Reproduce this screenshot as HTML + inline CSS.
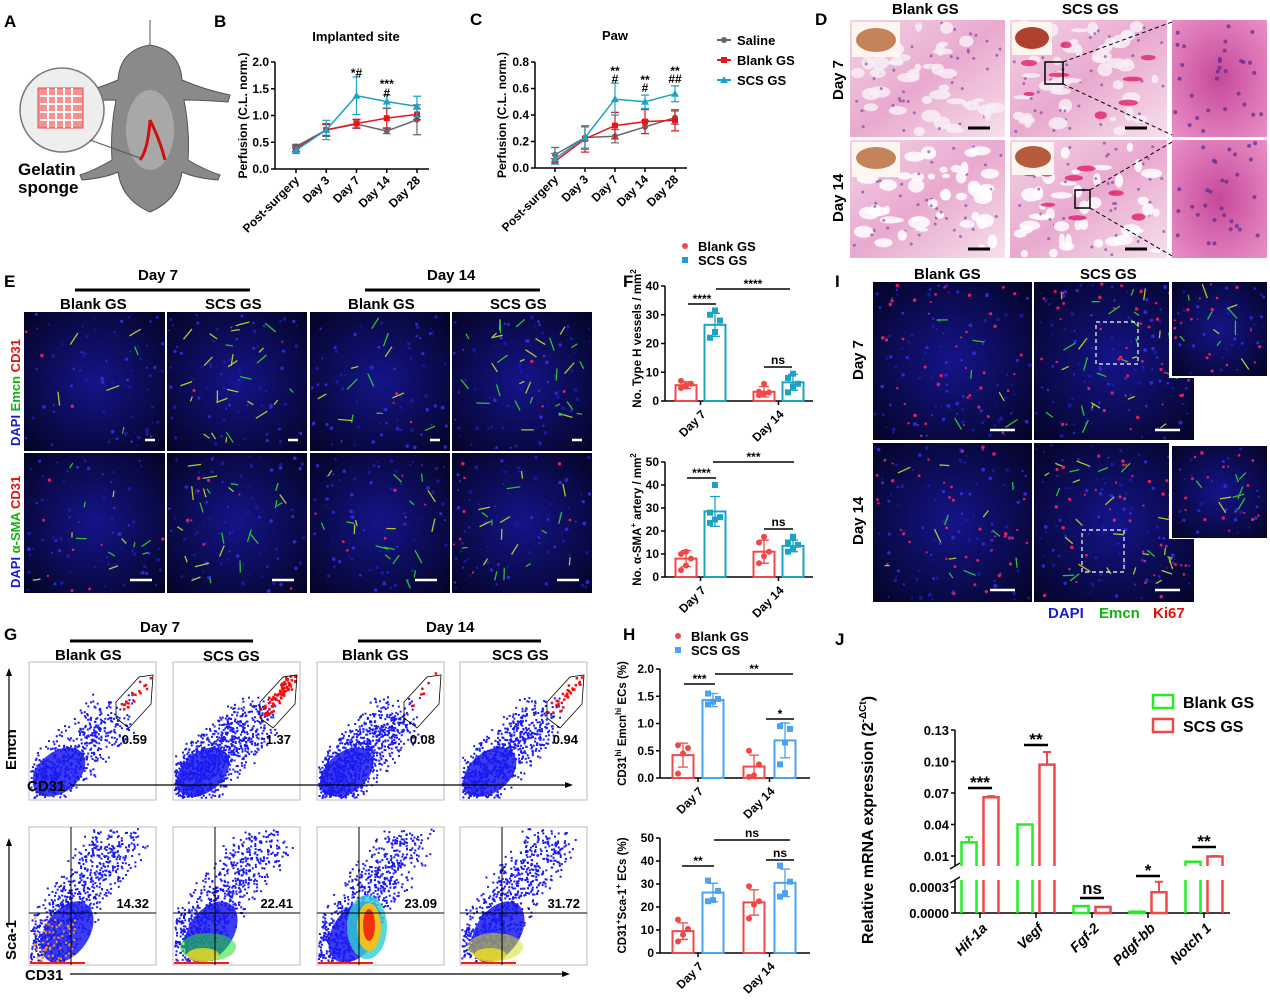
<!DOCTYPE html>
<html><head><meta charset="utf-8">
<style>
html,body{margin:0;padding:0;background:#fff;}
svg{display:block;font-family:"Liberation Sans",Arial,sans-serif;}
.pl{font-size:17px;font-weight:bold;}
.t{font-weight:bold;}
</style></head>
<body>
<svg id="fig" width="1270" height="1005" viewBox="0 0 1270 1005" xmlns="http://www.w3.org/2000/svg">
<defs>
<radialGradient id="fluo" cx="50%" cy="50%" r="70%"><stop offset="0" stop-color="#14148a"/><stop offset="1" stop-color="#040426"/></radialGradient>
<linearGradient id="hist" x1="0" y1="0" x2="1" y2="1"><stop offset="0" stop-color="#f3d3e6"/><stop offset="0.5" stop-color="#e9a9cf"/><stop offset="1" stop-color="#f6e0ec"/></linearGradient>
<radialGradient id="histz" cx="50%" cy="50%" r="70%"><stop offset="0" stop-color="#c7489a"/><stop offset="1" stop-color="#e990c6"/></radialGradient>
</defs>

<g>
<text class="pl" x="4" y="27">A</text><text class="pl" x="214" y="27">B</text><text class="pl" x="470" y="25">C</text>
<text class="pl" x="815" y="25">D</text><text class="pl" x="4" y="287">E</text><text class="pl" x="623" y="287">F</text>
<text class="pl" x="835" y="287">I</text><text class="pl" x="4" y="640">G</text><text class="pl" x="623" y="640">H</text>
<text class="pl" x="835" y="645">J</text>
</g>

<g>
<path d="M150 20 L150 45 Q120 50 118 80 Q95 90 70 95 L72 102 Q100 100 116 100 Q110 130 112 160 Q95 170 80 175 L82 180 Q105 178 118 172 Q122 200 150 212 Q178 200 182 172 Q195 178 218 180 L220 175 Q205 170 188 160 Q190 130 184 100 Q200 100 228 102 L230 95 Q205 90 182 80 Q180 50 150 45 Z" fill="#8a8a8a" stroke="#555" stroke-width="1"/>
<ellipse cx="150" cy="130" rx="24" ry="40" fill="#a8a8a8"/>
<path d="M150 120 Q148 150 140 160 M150 120 Q160 140 165 160" stroke="#d01010" stroke-width="3" fill="none"/>
<circle cx="62" cy="110" r="42" fill="#eee" stroke="#777" stroke-width="1.5"/>
<rect x="38" y="88" width="45" height="40" fill="#f49090" stroke="#e05050"/>
<path d="M40 96 H82 M40 104 H82 M40 112 H82 M40 120 H82 M48 88 V128 M56 88 V128 M64 88 V128 M72 88 V128" stroke="#fff" stroke-width="2"/>
<line x1="90" y1="140" x2="140" y2="158" stroke="#555"/>
<text x="18" y="175" font-size="17" class="t">Gelatin</text>
<text x="18" y="193" font-size="17" class="t">sponge</text>
</g>

<g id="lineB"></g>
<g id="lineC"></g>

<g font-size="13" font-weight="bold">
<line x1="717" y1="40" x2="731" y2="40" stroke="#666" stroke-width="2"/><circle cx="724" cy="40" r="3" fill="#666"/><text x="737" y="45">Saline</text>
<line x1="717" y1="60" x2="731" y2="60" stroke="#e8141c" stroke-width="2"/><rect x="721" y="57" width="6" height="6" fill="#e8141c"/><text x="737" y="65">Blank GS</text>
<line x1="717" y1="80" x2="731" y2="80" stroke="#1ba3c6" stroke-width="2"/><path d="M724 76 L728 83 L720 83Z" fill="#1ba3c6"/><text x="737" y="85">SCS GS</text>
</g>

<g>
<text x="892" y="14" font-size="15" class="t">Blank GS</text><text x="1062" y="14" font-size="15" class="t">SCS GS</text>
<text transform="translate(843,100) rotate(-90)" font-size="15" class="t">Day 7</text>
<text transform="translate(843,222) rotate(-90)" font-size="15" class="t">Day 14</text>
<rect x="850" y="20" width="155" height="117" fill="url(#hist)"/>
<rect x="1010" y="20" width="157" height="117" fill="url(#hist)"/>
<rect x="1172" y="20" width="95" height="117" fill="url(#histz)"/>
<rect x="850" y="140" width="155" height="118" fill="url(#hist)"/>
<rect x="1010" y="140" width="157" height="118" fill="url(#hist)"/>
<rect x="1172" y="140" width="95" height="118" fill="url(#histz)"/>
<g id="histTex"></g>
<rect x="852" y="22" width="48" height="35" fill="#fdf5ef"/><ellipse cx="876" cy="40" rx="20" ry="12" fill="#c4835a"/>
<rect x="1012" y="22" width="40" height="33" fill="#fdf5ef"/><ellipse cx="1032" cy="38" rx="17" ry="11" fill="#b04030"/>
<rect x="852" y="142" width="48" height="35" fill="#fdf5ef"/><ellipse cx="876" cy="158" rx="20" ry="11" fill="#c4835a"/>
<rect x="1012" y="142" width="42" height="33" fill="#fdf5ef"/><ellipse cx="1033" cy="157" rx="18" ry="11" fill="#b65a40"/>
<rect x="1045" y="62" width="18" height="22" fill="none" stroke="#000" stroke-width="1.5"/>
<rect x="1075" y="190" width="15" height="18" fill="none" stroke="#000" stroke-width="1.5"/>
<path d="M1063 62 L1172 22 M1063 84 L1172 135 M1090 190 L1172 142 M1090 208 L1172 256" stroke="#000" stroke-dasharray="4 3"/>
<path d="M968 128 H990 M1125 128 H1147 M968 249 H990 M1125 249 H1147" stroke="#000" stroke-width="3"/>
</g>

<g>
<text x="138" y="280" font-size="15" class="t">Day 7</text><text x="427" y="280" font-size="15" class="t">Day 14</text>
<line x1="75" y1="290" x2="250" y2="290" stroke="#000" stroke-width="3"/><line x1="365" y1="290" x2="540" y2="290" stroke="#000" stroke-width="3"/>
<text x="60" y="309" font-size="15" class="t">Blank GS</text><text x="205" y="309" font-size="15" class="t">SCS GS</text>
<text x="348" y="309" font-size="15" class="t">Blank GS</text><text x="490" y="309" font-size="15" class="t">SCS GS</text>
<g id="eImgs"></g>
<text transform="translate(20,446) rotate(-90)" font-size="13" class="t"><tspan fill="#1a1ad0">DAPI </tspan><tspan fill="#12b012">Emcn </tspan><tspan fill="#e01010">CD31</tspan></text>
<text transform="translate(20,588) rotate(-90)" font-size="13" class="t"><tspan fill="#1a1ad0">DAPI </tspan><tspan fill="#12b012">α-SMA </tspan><tspan fill="#e01010">CD31</tspan></text>
</g>

<g id="barF1"></g>
<g id="barF2"></g>
<g font-size="13" font-weight="bold">
<circle cx="685" cy="246" r="3" fill="#f04848"/><text x="698" y="251">Blank GS</text>
<rect x="682" y="257" width="6" height="6" fill="#1ba3c6"/><text x="698" y="265">SCS GS</text>
</g>

<g>
<text x="914" y="279" font-size="15" class="t">Blank GS</text><text x="1080" y="279" font-size="15" class="t">SCS GS</text>
<text transform="translate(863,380) rotate(-90)" font-size="15" class="t">Day 7</text>
<text transform="translate(863,545) rotate(-90)" font-size="15" class="t">Day 14</text>
<g id="iImgs"></g>
<text x="1048" y="618" font-size="15" class="t" fill="#1a1ad0">DAPI</text><text x="1099" y="618" font-size="15" class="t" fill="#12b012">Emcn</text><text x="1153" y="618" font-size="15" class="t" fill="#e01010">Ki67</text>
</g>

<g>
<text x="140" y="632" font-size="15" class="t">Day 7</text><text x="426" y="632" font-size="15" class="t">Day 14</text>
<line x1="70" y1="641" x2="253" y2="641" stroke="#000" stroke-width="3"/><line x1="358" y1="641" x2="541" y2="641" stroke="#000" stroke-width="3"/>
<text x="55" y="660" font-size="15" class="t">Blank GS</text><text x="203" y="661" font-size="15" class="t">SCS GS</text>
<text x="342" y="660" font-size="15" class="t">Blank GS</text><text x="492" y="660" font-size="15" class="t">SCS GS</text>
<g id="gPlots"></g>
<text transform="translate(16,770) rotate(-90)" font-size="15" class="t">Emcn</text>
<text transform="translate(16,960) rotate(-90)" font-size="15" class="t">Sca-1</text>
<line x1="9" y1="755" x2="9" y2="672" stroke="#000" stroke-width="1.2"/><path d="M9 668 L6 676 L12 676Z"/>
<line x1="9" y1="925" x2="9" y2="842" stroke="#000" stroke-width="1.2"/><path d="M9 838 L6 846 L12 846Z"/>
<text x="27" y="791" font-size="15" class="t">CD31</text><text x="25" y="980" font-size="15" class="t">CD31</text>
<line x1="70" y1="785" x2="568" y2="785" stroke="#000" stroke-width="1.2"/><path d="M573 785 L565 782 L565 788Z"/>
<line x1="70" y1="974" x2="565" y2="974" stroke="#000" stroke-width="1.2"/><path d="M570 974 L562 971 L562 977Z"/>
</g>

<g id="barH1"></g>
<g id="barH2"></g>
<g font-size="13" font-weight="bold">
<circle cx="678" cy="636" r="3" fill="#f04848"/><text x="691" y="641">Blank GS</text>
<rect x="675" y="647" width="6" height="6" fill="#4aa3f0"/><text x="691" y="655">SCS GS</text>
</g>

<g id="barJ"></g>
<g font-size="16" font-weight="bold">
<rect x="1153" y="695" width="20" height="13" fill="none" stroke="#22ee22" stroke-width="2.5"/><text x="1183" y="708">Blank GS</text>
<rect x="1153" y="719" width="20" height="13" fill="none" stroke="#f04848" stroke-width="2.5"/><text x="1183" y="732">SCS GS</text>
</g>
</svg>

<script>
// ===== Chart data =====
const lineCats = ["Post-surgery","Day 3","Day 7","Day 14","Day 28"];
const bSaline = [0.42,0.73,0.84,0.71,0.92];
const bBlank  = [0.38,0.73,0.85,0.95,1.02];
const bSCS    = [0.35,0.73,1.37,1.26,1.17];
const bSalineErr=[0.04,0.12,0.08,0.05,0.28];
const bBlankErr =[0.05,0.10,0.08,0.18,0.10];
const bSCSErr   =[0.06,0.18,0.35,0.12,0.19];
const bTicks=[0,0.5,1.0,1.5,2.0];
const cSaline=[0.10,0.23,0.24,0.31,0.38];
const cBlank =[0.05,0.22,0.32,0.35,0.36];
const cSCS   =[0.07,0.23,0.52,0.50,0.56];
const cSalineErr=[0.055,0.08,0.05,0.05,0.05];
const cBlankErr =[0.02,0.10,0.10,0.09,0.08];
const cSCSErr   =[0.04,0.09,0.12,0.05,0.06];
const cTicks=[0,0.2,0.4,0.6,0.8];

const dayCats=["Day 7","Day 14"];
const f1Blank=[5.5,3.2]; const f1SCS=[26.5,6.5];
const f1BlankErr=[1.2,1.8]; const f1SCSErr=[4,2.8];
const f1BlankPts=[[4.5,5,6,7,5.5],[2,2.5,3,3.2,6]];
const f1SCSPts=[[22,24,28,30,31.5],[3,5,6,8,9.5]];
const f1Ticks=[0,10,20,30,40];
const f2Blank=[8,11]; const f2SCS=[28.5,13.5];
const f2BlankErr=[3.5,5]; const f2SCSErr=[6.5,2.5];
const f2BlankPts=[[3,5,8,10,11],[6,9,11,15,17.5]];
const f2SCSPts=[[23.5,25,26,28,40],[11,12,14,15,17.5]];
const f2Ticks=[0,10,20,30,40,50];
const h1Blank=[0.42,0.21]; const h1SCS=[1.43,0.69];
const h1BlankErr=[0.22,0.21]; const h1SCSErr=[0.12,0.32];
const h1BlankPts=[[0.08,0.45,0.55,0.6],[0.02,0.05,0.25,0.5]];
const h1SCSPts=[[1.35,1.4,1.45,1.55],[0.25,0.65,0.9,0.95]];
const h1Ticks=[0,0.5,1.0,1.5,2.0];
const h2Blank=[9.5,22]; const h2SCS=[26.3,30.5];
const h2BlankErr=[3.6,5.5]; const h2SCSErr=[4,6];
const h2BlankPts=[[5,8,10.5,14.5],[15,21,22.5,29]];
const h2SCSPts=[[22.5,23,27,31.5],[24.5,26,31,38]];
const h2Ticks=[0,10,20,30,40,50];

const geneCats=["Hif-1a","Vegf","Fgf-2","Pdgf-bb","Notch 1"];
const jBlank=[0.023,0.040,0.00008,0.000015,0.0045];
const jSCS=[0.066,0.097,0.00007,0.00024,0.0095];
const jBlankErr=[0.005,0,0,0,0];
const jSCSErr=[0.001,0.012,0,0.00012,0.0005];
const jUpperTicks=[0.01,0.04,0.07,0.10,0.13];
const jUpperLabels=["0.01","0.04","0.07","0.10","0.13"];
const jLowerTicks=[0,0.0003];
const jLowerLabels=["0.0000","0.0003"];

const NS="http://www.w3.org/2000/svg";
function mk(parent,tag,attrs,text){const e=document.createElementNS(NS,tag);for(const k in attrs)e.setAttribute(k,attrs[k]);if(text!==undefined)e.textContent=text;parent.appendChild(e);return e;}
function fmt(v,d){return v.toFixed(d);}

function lineChart(id,o){
  const g=document.getElementById(id);
  const y=v=>o.y0-(v-o.min)/(o.max-o.min)*(o.y0-o.y1);
  const x=i=>o.xs+i*o.dx;
  mk(g,"text",{x:o.titleX,y:o.titleY,"font-size":13,"font-weight":"bold","text-anchor":"middle"},o.title);
  mk(g,"line",{x1:o.ax,y1:o.y1,x2:o.ax,y2:o.y0,stroke:"#000","stroke-width":1.5});
  mk(g,"line",{x1:o.ax,y1:o.y0,x2:x(4)+12,y2:o.y0,stroke:"#000","stroke-width":1.5});
  o.ticks.forEach(t=>{
    const tk=mk(g,"line",{x1:o.ax-4,y1:y(t),x2:o.ax,y2:y(t),stroke:"#000","stroke-width":1.5});
    
    const lb=mk(g,"text",{x:o.ax-6,y:y(t)+4,"font-size":12,"font-weight":"bold","text-anchor":"end"},fmt(t,1));
    
  });
  lineCats.forEach((c,i)=>{
    mk(g,"line",{x1:x(i),y1:o.y0,x2:x(i),y2:o.y0+4,stroke:"#000","stroke-width":1.5});
    const lb=mk(g,"text",{transform:`translate(${x(i)+4},${o.y0+12}) rotate(-45)`,"font-size":12,"font-weight":"bold","text-anchor":"end"},c);
    
  });
  const yl=mk(g,"text",{transform:`translate(${o.ylx},${(o.y0+o.y1)/2}) rotate(-90)`,"font-size":12,"font-weight":"bold","text-anchor":"middle"},"Perfusion (C.L. norm.)");
  
  o.series.forEach(s=>{
    const pts=s.v.map((v,i)=>x(i)+","+y(v)).join(" ");
    const pl=mk(g,"polyline",{points:pts,fill:"none",stroke:s.c,"stroke-width":1.5});
    
    s.v.forEach((v,i)=>{
      const e=s.e[i];
      mk(g,"path",{d:`M${x(i)} ${y(v+e)}V${y(v-e)}M${x(i)-4} ${y(v+e)}H${x(i)+4}M${x(i)-4} ${y(v-e)}H${x(i)+4}`,stroke:s.c,"stroke-width":1.2,fill:"none"});
      let m;
      if(s.m==="sq") m=mk(g,"rect",{x:x(i)-3,y:y(v)-3,width:6,height:6,fill:s.c});
      else if(s.m==="tri") m=mk(g,"path",{d:`M${x(i)} ${y(v)-4}L${x(i)+4} ${y(v)+3}L${x(i)-4} ${y(v)+3}Z`,fill:s.c});
      else m=mk(g,"circle",{cx:x(i),cy:y(v),r:3,fill:s.c});
      
    });
  });
  o.stars.forEach(s=>{mk(g,"text",{x:x(s.i),y:s.y,"font-size":12,"font-weight":"bold","text-anchor":"middle"},s.t);});
}
lineChart("lineB",{xs:296,dx:30.25,ax:275,y0:169,y1:62,min:0,max:2,ticks:bTicks,title:"Implanted site",titleX:356,titleY:41,ylx:247,
 series:[{v:bSaline,e:bSalineErr,c:"#666",m:"ci"},{v:bBlank,e:bBlankErr,c:"#e8141c",m:"sq"},{v:bSCS,e:bSCSErr,c:"#1ba3c6",m:"tri"}],
 stars:[{i:2,y:77,t:"*#"},{i:3,y:88,t:"***"},{i:3,y:97,t:"#"}]});
lineChart("lineC",{xs:555,dx:30,ax:535,y0:168,y1:62,min:0,max:0.8,ticks:cTicks,title:"Paw",titleX:615,titleY:40,ylx:506,
 series:[{v:cSaline,e:cSalineErr,c:"#666",m:"ci"},{v:cBlank,e:cBlankErr,c:"#e8141c",m:"sq"},{v:cSCS,e:cSCSErr,c:"#1ba3c6",m:"tri"}],
 stars:[{i:2,y:75,t:"**"},{i:2,y:83,t:"#"},{i:3,y:84,t:"**"},{i:3,y:92,t:"#"},{i:4,y:75,t:"**"},{i:4,y:83,t:"##"}]});

function barChart(id,o){
  const g=document.getElementById(id);
  const y=v=>o.y0-v/o.max*(o.y0-o.y1);
  mk(g,"line",{x1:o.ax,y1:o.y1,x2:o.ax,y2:o.y0,stroke:"#000","stroke-width":1.5});
  mk(g,"line",{x1:o.ax,y1:o.y0,x2:o.xend,y2:o.y0,stroke:"#000","stroke-width":1.5});
  o.ticks.forEach(t=>{
    mk(g,"line",{x1:o.ax-4,y1:y(t),x2:o.ax,y2:y(t),stroke:"#000","stroke-width":1.5});
    const lb=mk(g,"text",{x:o.ax-6,y:y(t)+4,"font-size":12,"font-weight":"bold","text-anchor":"end"},fmt(t,o.dec));
    
  });
  dayCats.forEach((c,i)=>{
    const cx=(o.cx[0][i]+o.cx[1][i])/2;
    mk(g,"line",{x1:cx,y1:o.y0,x2:cx,y2:o.y0+4,stroke:"#000","stroke-width":1.5});
    const lb=mk(g,"text",{transform:`translate(${cx+6},${o.y0+14}) rotate(-45)`,"font-size":12,"font-weight":"bold","text-anchor":"end"},c);
    
  });
  const yl=mk(g,"text",{transform:`translate(${o.ylx},${(o.y0+o.y1)/2+o.yloff}) rotate(-90)`,"font-size":11.5,"font-weight":"bold","text-anchor":"middle"});
  yl.innerHTML=o.ylabel;
  
  [[o.blank,o.blankErr,o.blankPts,o.c1,"ci"],[o.scs,o.scsErr,o.scsPts,o.c2,"sq"]].forEach((s,k)=>{
    s[0].forEach((v,i)=>{
      const cx=o.cx[k][i],w=o.bw;
      const b=mk(g,"rect",{x:cx-w/2,y:y(v),width:w,height:o.y0-y(v),fill:"none",stroke:s[3],"stroke-width":2});
      
      const e=s[1][i];
      mk(g,"path",{d:`M${cx} ${y(v+e)}V${y(v-e)}M${cx-5} ${y(v+e)}H${cx+5}M${cx-5} ${y(v-e)}H${cx+5}`,stroke:s[3],"stroke-width":1.3,fill:"none"});
      s[2][i].forEach((p,j)=>{
        const px=cx+((j%3)-1)*5;
        let m= s[4]==="ci"? mk(g,"circle",{cx:px,cy:y(p),r:3,fill:s[3]}) : mk(g,"rect",{x:px-3,y:y(p)-3,width:6,height:6,fill:s[3]});
        
      });
    });
  });
  o.sig.forEach(s=>{
    mk(g,"line",{x1:s.x1,y1:s.y,x2:s.x2,y2:s.y,stroke:"#000","stroke-width":1.5});
    mk(g,"text",{x:(s.x1+s.x2)/2,y:s.y-(s.t==="ns"?3:1),"font-size":12,"font-weight":"bold","text-anchor":"middle"},s.t);
  });
}
barChart("barF1",{ax:665,xend:813,y0:401,y1:286,max:40,ticks:f1Ticks,dec:0,bw:21,cx:[[686,764],[715,793]],
 blank:f1Blank,blankErr:f1BlankErr,blankPts:f1BlankPts,scs:f1SCS,scsErr:f1SCSErr,scsPts:f1SCSPts,c1:"#f04848",c2:"#1ba3c6",
 ylx:641,yloff:-5,ylabel:'No. Type H vessels / mm<tspan dy="-5" font-size="8">2</tspan>',
 sig:[{x1:688,x2:716,y:304,t:"****"},{x1:716,x2:790,y:289,t:"****"},{x1:764,x2:792,y:367,t:"ns"}]});
barChart("barF2",{ax:665,xend:813,y0:577,y1:462,max:50,ticks:f2Ticks,dec:0,bw:21,cx:[[686,764],[715,793]],
 blank:f2Blank,blankErr:f2BlankErr,blankPts:f2BlankPts,scs:f2SCS,scsErr:f2SCSErr,scsPts:f2SCSPts,c1:"#f04848",c2:"#1ba3c6",
 ylx:641,yloff:0,ylabel:'No. α-SMA<tspan dy="-5" font-size="8">+</tspan><tspan dy="5"> artery / mm</tspan><tspan dy="-5" font-size="8">2</tspan>',
 sig:[{x1:687,x2:716,y:478,t:"****"},{x1:713,x2:794,y:462,t:"***"},{x1:764,x2:793,y:529,t:"ns"}]});
barChart("barH1",{ax:660,xend:810,y0:778,y1:669,max:2,ticks:h1Ticks,dec:1,bw:21,cx:[[683,754],[713,785]],
 blank:h1Blank,blankErr:h1BlankErr,blankPts:h1BlankPts,scs:h1SCS,scsErr:h1SCSErr,scsPts:h1SCSPts,c1:"#f04848",c2:"#4aa3f0",
 ylx:626,yloff:0,ylabel:'CD31<tspan dy="-5" font-size="8">hi</tspan><tspan dy="5"> Emcn</tspan><tspan dy="-5" font-size="8">hi</tspan><tspan dy="5"> ECs (%)</tspan>',
 sig:[{x1:684,x2:715,y:684,t:"***"},{x1:715,x2:793,y:674,t:"**"},{x1:766,x2:794,y:719,t:"*"}]});
barChart("barH2",{ax:660,xend:810,y0:953,y1:838,max:50,ticks:h2Ticks,dec:0,bw:21,cx:[[683,754],[713,785]],
 blank:h2Blank,blankErr:h2BlankErr,blankPts:h2BlankPts,scs:h2SCS,scsErr:h2SCSErr,scsPts:h2SCSPts,c1:"#f04848",c2:"#4aa3f0",
 ylx:626,yloff:0,ylabel:'CD31<tspan dy="-5" font-size="8">+</tspan><tspan dy="5">Sca-1</tspan><tspan dy="-5" font-size="8">+</tspan><tspan dy="5"> ECs (%)</tspan>',
 sig:[{x1:682,x2:714,y:866,t:"**"},{x1:714,x2:790,y:840,t:"ns"},{x1:766,x2:794,y:860,t:"ns"}]});

(function(){
  const g=document.getElementById("barJ");
  const ax=955, xend=1230, yTop=730, yU=856, uMin=0.01, uMax=0.13, brkU=866, brkL=880, yL0=913, lMax=0.0003, yL=887;
  const yUp=v=>yU-(v-uMin)/(uMax-uMin)*(yU-yTop);
  const yLo=v=>yL0-v/lMax*(yL0-yL);
  const inUpper=v=>v>lMax*1.5;
  const yAny=v=>inUpper(v)?yUp(v):yLo(v);
  const tick0=980, dxg=56, bw=15;
  mk(g,"line",{x1:ax,y1:yTop,x2:ax,y2:brkU,stroke:"#000","stroke-width":1.5});
  mk(g,"line",{x1:ax,y1:brkL,x2:ax,y2:yL0,stroke:"#000","stroke-width":1.5});
  mk(g,"path",{d:`M${ax-5} ${brkU+3}L${ax+5} ${brkU-3}M${ax-5} ${brkL+3}L${ax+5} ${brkL-3}`,stroke:"#000","stroke-width":1.5});
  mk(g,"line",{x1:ax,y1:yL0,x2:xend,y2:yL0,stroke:"#000","stroke-width":1.5});
  jUpperTicks.forEach((t,i)=>{mk(g,"line",{x1:ax-4,y1:yUp(t),x2:ax,y2:yUp(t),stroke:"#000","stroke-width":1.5});
    const lb=mk(g,"text",{x:ax-6,y:yUp(t)+5,"font-size":13,"font-weight":"bold","text-anchor":"end"},jUpperLabels[i]);});
  jLowerTicks.forEach((t,i)=>{mk(g,"line",{x1:ax-4,y1:yLo(t),x2:ax,y2:yLo(t),stroke:"#000","stroke-width":1.5});
    const lb=mk(g,"text",{x:ax-6,y:yLo(t)+5,"font-size":13,"font-weight":"bold","text-anchor":"end"},jLowerLabels[i]);});
  const yl=mk(g,"text",{transform:"translate(873,820) rotate(-90)","font-size":16,"font-weight":"bold","text-anchor":"middle"});
  yl.innerHTML='Relative mRNA expression (2<tspan dy="-7" font-size="10">-ΔCt</tspan><tspan dy="7">)</tspan>';
  
  function drawBar(cx,v,c){
    if(inUpper(v)){
      const b=mk(g,"path",{d:`M${cx-bw/2} ${yL0}V${brkL}M${cx+bw/2} ${yL0}V${brkL}M${cx-bw/2} ${brkU}V${yUp(v)}H${cx+bw/2}V${brkU}`,fill:"none",stroke:c,"stroke-width":2.5});
      
    } else {
      const b=mk(g,"rect",{x:cx-bw/2,y:yLo(v),width:bw,height:yL0-yLo(v),fill:"none",stroke:c,"stroke-width":2.5});
      
    }
  }
  geneCats.forEach((c,i)=>{
    const t=tick0+i*dxg, gx=t-11, rx=t+11;
    mk(g,"line",{x1:t,y1:yL0,x2:t,y2:yL0+5,stroke:"#000","stroke-width":1.5});
    const lb=mk(g,"text",{transform:`translate(${t+8},${yL0+16}) rotate(-45)`,"font-size":14,"font-weight":"bold","font-style":"italic","text-anchor":"end"},c);
    
    drawBar(gx,jBlank[i],"#22ee22"); drawBar(rx,jSCS[i],"#f04848");
    if(jBlankErr[i]>0){const a=yAny(jBlank[i]+jBlankErr[i]);mk(g,"path",{d:`M${gx} ${yAny(jBlank[i])}V${a}M${gx-4} ${a}H${gx+4}`,stroke:"#22ee22","stroke-width":2,fill:"none"});}
    if(jSCSErr[i]>0){const a=yAny(jSCS[i]+jSCSErr[i]);mk(g,"path",{d:`M${rx} ${yAny(jSCS[i])}V${a}M${rx-4} ${a}H${rx+4}`,stroke:"#f04848","stroke-width":2,fill:"none"});}
  });
  const sig=[{i:0,y:788,t:"***"},{i:1,y:745,t:"**"},{i:2,y:898,t:"ns"},{i:3,y:876,t:"*"},{i:4,y:847,t:"**"}];
  sig.forEach(s=>{const t=tick0+s.i*dxg;mk(g,"line",{x1:t-12,y1:s.y,x2:t+12,y2:s.y,stroke:"#000","stroke-width":2.5});
    mk(g,"text",{x:t,y:s.y-(s.t==="ns"?4:0),"font-size":17,"font-weight":"bold","text-anchor":"middle"},s.t);});
})();

// ===== image-like panels (decorative) =====
let seed=7; function rnd(){seed=(seed*16807)%2147483647;return seed/2147483647;}
function fluoPanel(parent,x,y,w,h,dens,green,red){
  const g=mk(parent,"g",{});
  
  
  mk(g,"rect",{x,y,width:w,height:h,fill:"url(#fluo)"});
  for(let i=0;i<dens;i++){mk(g,"circle",{cx:x+2+rnd()*(w-4),cy:y+2+rnd()*(h-4),r:0.8+rnd()*1.2,fill:rnd()<0.5?"#2a2ad0":"#1818a0"});}
  for(let i=0;i<green;i++){const px=x+12+rnd()*(w-24),py=y+12+rnd()*(h-24),a=rnd()*6.28,l=5+rnd()*10;
    mk(g,"line",{x1:px,y1:py,x2:px+Math.cos(a)*l,y2:py+Math.sin(a)*l,stroke:rnd()<0.5?"#30c030":"#b0c830","stroke-width":1.3});}
  for(let i=0;i<red;i++){mk(g,"circle",{cx:x+2+rnd()*(w-4),cy:y+2+rnd()*(h-4),r:1+rnd()*0.8,fill:"#e0205a"});}
  return g;
}
const eg=document.getElementById("eImgs");
const eCols=[[24,141],[167,140],[310,140],[452,140]];
const eG=[[6,25,12,30],[12,22,18,18]];
eCols.forEach((c,i)=>{fluoPanel(eg,c[0],312,c[1],139,70,eG[0][i],3);fluoPanel(eg,c[0],453,c[1],140,70,eG[1][i],8);});
[[145,440],[288,440],[430,440],[572,440]].forEach(p=>mk(eg,"line",{x1:p[0],y1:p[1],x2:p[0]+10,y2:p[1],stroke:"#fff","stroke-width":2.5}));
[[130,580],[272,580],[415,580],[557,580]].forEach(p=>mk(eg,"line",{x1:p[0],y1:p[1],x2:p[0]+22,y2:p[1],stroke:"#fff","stroke-width":2.5}));

const ig=document.getElementById("iImgs");
fluoPanel(ig,873,282,159,158,90,6,40);fluoPanel(ig,1034,282,160,158,90,25,45);
fluoPanel(ig,873,443,159,159,90,12,40);fluoPanel(ig,1034,443,160,159,90,28,45);
mk(ig,"rect",{x:1169,y:280,width:100,height:98,fill:"#fff"});mk(ig,"rect",{x:1169,y:443,width:100,height:96,fill:"#fff"});
fluoPanel(ig,1172,282,95,94,30,10,18);fluoPanel(ig,1172,446,95,92,30,8,18);
mk(ig,"rect",{x:1096,y:322,width:42,height:42,fill:"none",stroke:"#fff","stroke-dasharray":"4 3","stroke-width":1.2});
mk(ig,"rect",{x:1082,y:530,width:42,height:42,fill:"none",stroke:"#fff","stroke-dasharray":"4 3","stroke-width":1.2});
[[990,430],[1155,430],[990,590],[1155,590]].forEach(p=>mk(ig,"line",{x1:p[0],y1:p[1],x2:p[0]+25,y2:p[1],stroke:"#fff","stroke-width":2.5}));

const hg=document.getElementById("histTex");
[[850,20,155,117],[1010,20,157,117],[850,140,155,118],[1010,140,157,118]].forEach((r,k)=>{
  for(let i=0;i<45;i++){const rx=3+rnd()*8, ry=2+rnd()*5;
    const px=r[0]+rx+rnd()*(r[2]-2*rx),py=r[1]+ry+rnd()*(r[3]-2*ry);
    mk(hg,"ellipse",{cx:px,cy:py,rx,ry,fill:k>=2?"#ffffff":"#f8eef6",opacity:0.85});
    mk(hg,"circle",{cx:r[0]+3+rnd()*(r[2]-6),cy:r[1]+3+rnd()*(r[3]-6),r:1.5,fill:"#6a3aa0",opacity:0.6});}
  if(k===1||k===3)for(let i=0;i<8;i++)mk(hg,"ellipse",{cx:r[0]+15+rnd()*(r[2]-30),cy:r[1]+6+rnd()*(r[3]-12),rx:5+rnd()*6,ry:2+rnd()*2,fill:"#e0206a",opacity:0.8});
});
for(let i=0;i<60;i++){mk(hg,"circle",{cx:1175+rnd()*89,cy:(i<30?23:143)+rnd()*110,r:2,fill:"#5a2a90",opacity:0.7});}

const gg=document.getElementById("gPlots");
const gCols=[29,173,317,460], gW=127;
const topPct=["0.59","1.37","0.08","0.94"], botPct=["14.32","22.41","23.09","31.72"];
const topDens=[700,1100,1100,900], botHot=[["#ff9a20",0],["#20e020",1],["#ff4020",2],["#d8e020",1]];
gCols.forEach((x,i)=>{
  [[662,true],[827,false]].forEach(([y,top])=>{
    const h=138;
    const p=mk(gg,"g",{});
    
    
    mk(p,"rect",{x,y,width:gW,height:h,fill:"#fff",stroke:"#bbb"});
    if(top){
      mk(p,"ellipse",{cx:x+30,cy:y+110,rx:30,ry:20,fill:"#1a1af0",opacity:0.85,transform:`rotate(-40 ${x+30} ${y+110})`});
      for(let k=0;k<topDens[i];k++){const t=Math.pow(rnd(),1.4),px=x+4+t*80+(rnd()-0.5)*45,py=y+h-6-t*80+(rnd()-0.5)*45;
        if(px>x+1&&px<x+gW-3&&py>y+1&&py<y+h-3)mk(p,"rect",{x:px,y:py,width:2,height:2,fill:"#1a1af0"});}
      const n=[20,80,6,30][i];
      for(let k=0;k<n;k++){const t=rnd();mk(p,"rect",{x:x+90+t*28+(rnd()-0.5)*10,y:y+50-t*35+(rnd()-0.5)*10,width:2.5,height:2.5,fill:"#f01010"});}
      mk(p,"path",{d:`M${x+87} ${y+56}L${x+100} ${y+66}L${x+122} ${y+42}L${x+124} ${y+13}L${x+110} ${y+15}L${x+87} ${y+40}Z`,fill:"none",stroke:"#000","stroke-width":0.8});
      mk(p,"text",{x:x+118,y:y+82,"font-size":13,"font-weight":"bold","text-anchor":"end"},topPct[i]);
    } else {
      mk(p,"ellipse",{cx:x+38,cy:y+105,rx:34,ry:22,fill:"#1a1af0",opacity:0.85,transform:`rotate(-55 ${x+38} ${y+105})`});
      for(let k=0;k<900;k++){const t=Math.pow(rnd(),1.3),px=x+4+t*90+(rnd()-0.5)*50,py=y+h-6-t*125+(rnd()-0.5)*40;
        if(px>x+1&&px<x+gW-3&&py>y+1&&py<y+h-3)mk(p,"rect",{x:px,y:py,width:2,height:2,fill:"#1a1af0"});}
      const hc=botHot[i];
      if(hc[1]===0){for(let k=0;k<60;k++)mk(p,"rect",{x:x+5+rnd()*40,y:y+90+rnd()*45,width:2,height:2,fill:hc[0]});}
      else if(hc[1]===1){mk(p,"ellipse",{cx:x+35,cy:y+120,rx:28,ry:14,fill:hc[0],opacity:0.55});mk(p,"ellipse",{cx:x+30,cy:y+128,rx:16,ry:7,fill:"#f0e020",opacity:0.8});}
      else {mk(p,"ellipse",{cx:x+50,cy:y+100,rx:20,ry:32,fill:"#30d0d0",opacity:0.8});mk(p,"ellipse",{cx:x+52,cy:y+100,rx:12,ry:24,fill:"#f0c020"});mk(p,"ellipse",{cx:x+52,cy:y+98,rx:6,ry:16,fill:"#f03010"});}
      mk(p,"rect",{x:x+1,y:y+h-3,width:55,height:2,fill:"#f02020"});
      mk(p,"line",{x1:x+42,y1:y,x2:x+42,y2:y+h,stroke:"#000","stroke-width":1});
      mk(p,"line",{x1:x,y1:y+86,x2:x+gW,y2:y+86,stroke:"#000","stroke-width":1});
      mk(p,"text",{x:x+120,y:y+81,"font-size":13,"font-weight":"bold","text-anchor":"end"},botPct[i]);
    }
  });
});
</script>
</body></html>
